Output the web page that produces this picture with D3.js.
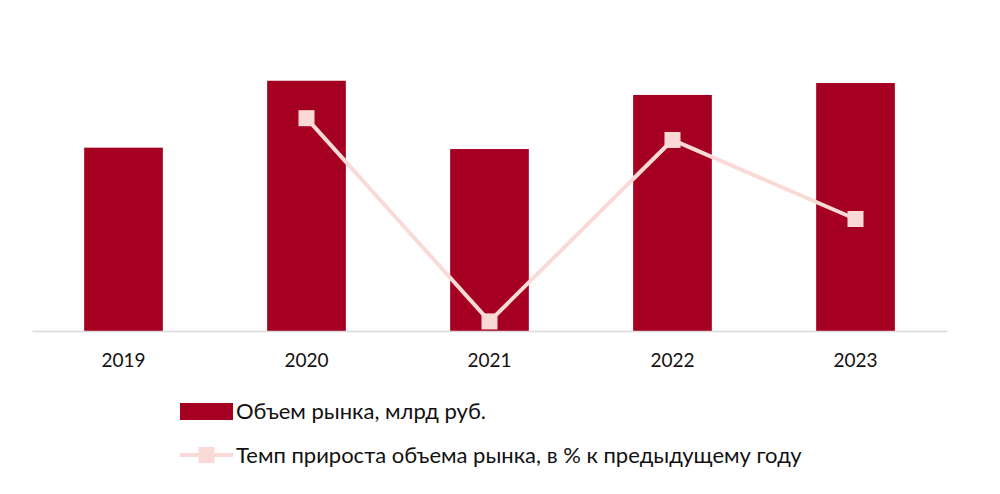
<!DOCTYPE html>
<html>
<head>
<meta charset="utf-8">
<script src="https://cdn.jsdelivr.net/npm/d3@7"></script>
<style>
  body { margin: 0; background: #fff; }
  svg { display: block; font-family: Lato, "Open Sans", sans-serif; }
</style>
</head>
<body>
<svg class="chart" width="1000" height="494"></svg>
<script>
// data
var years = ["2019", "2020", "2021", "2022", "2023"]
var volume = [200, 273, 198.5, 257.5, 270.5]      // объем рынка, млрд руб.
var growth = [null, 36.5, -27, 29.7, 5]           // темп прироста, %
var legendLabels = ["Объем рынка, млрд руб.", "Темп прироста объема рынка, в % к предыдущему году"]

var barColor = "#a50021"
var lineColor = "#fadad6"

var chart = d3.select(".chart")

var x = d3.scaleBand()
    .domain(years)
    .range([32, 947])
    .paddingInner(0.57)
    .paddingOuter(0.285)

var y = d3.scaleLinear() // bars
    .domain([0, 300])
    .range([331, 56])

var y2 = d3.scaleLinear() // line, secondary axis (hidden)
    .domain([-30, 40])
    .range([331, 107])

// bars
chart.append("g")
    .selectAll("rect")
    .data(volume)
    .enter().append("rect")
    .attr("x", (d, i) => x(years[i]))
    .attr("width", x.bandwidth())
    .attr("y", d => y(d))
    .attr("height", d => y(0) - y(d))
    .attr("fill", barColor)

// x axis
var xAxis = chart.append("g")
    .attr("transform", "translate(0,331)")
    .call(d3.axisBottom(x).tickSize(0).tickPadding(23))
xAxis.select(".domain").attr("stroke", "#d9d9d9").attr("stroke-width", 1.5)
xAxis.selectAll("text")
    .style("font-size", "19px")
    .style("font-family", "Lato, 'Open Sans', sans-serif")
    .attr("fill", "#111")

// line
var pts = growth.map((v, i) => ({ year: years[i], v: v })).filter(d => d.v !== null)
var line = d3.line()
    .x(d => x(d.year) + x.bandwidth() / 2)
    .y(d => y2(d.v))

chart.append("path")
    .datum(pts)
    .attr("fill", "none")
    .attr("stroke", lineColor)
    .attr("stroke-width", 4)
    .attr("d", line)

var m = 16
chart.append("g")
    .selectAll("rect")
    .data(pts)
    .enter().append("rect")
    .attr("x", d => x(d.year) + x.bandwidth() / 2 - m / 2)
    .attr("y", d => y2(d.v) - m / 2)
    .attr("width", m)
    .attr("height", m)
    .attr("fill", lineColor)

// legend
var legend = chart.append("g").attr("transform", "translate(180,0)")
legend.append("rect")
    .attr("x", 0).attr("y", 403)
    .attr("width", 53).attr("height", 17)
    .attr("fill", barColor)
legend.append("line")
    .attr("x1", 0).attr("x2", 53)
    .attr("y1", 455).attr("y2", 455)
    .attr("stroke", lineColor).attr("stroke-width", 4)
legend.append("rect")
    .attr("x", 26.5 - m / 2).attr("y", 455 - m / 2)
    .attr("width", m).attr("height", m)
    .attr("fill", lineColor)

legend.selectAll("text")
    .data(legendLabels)
    .enter().append("text")
    .attr("x", 56)
    .attr("y", (d, i) => 419 + i * 44)
    .attr("fill", "#111")
    .style("font-size", "22px")
    .text(d => d)
</script>
</body>
</html>
